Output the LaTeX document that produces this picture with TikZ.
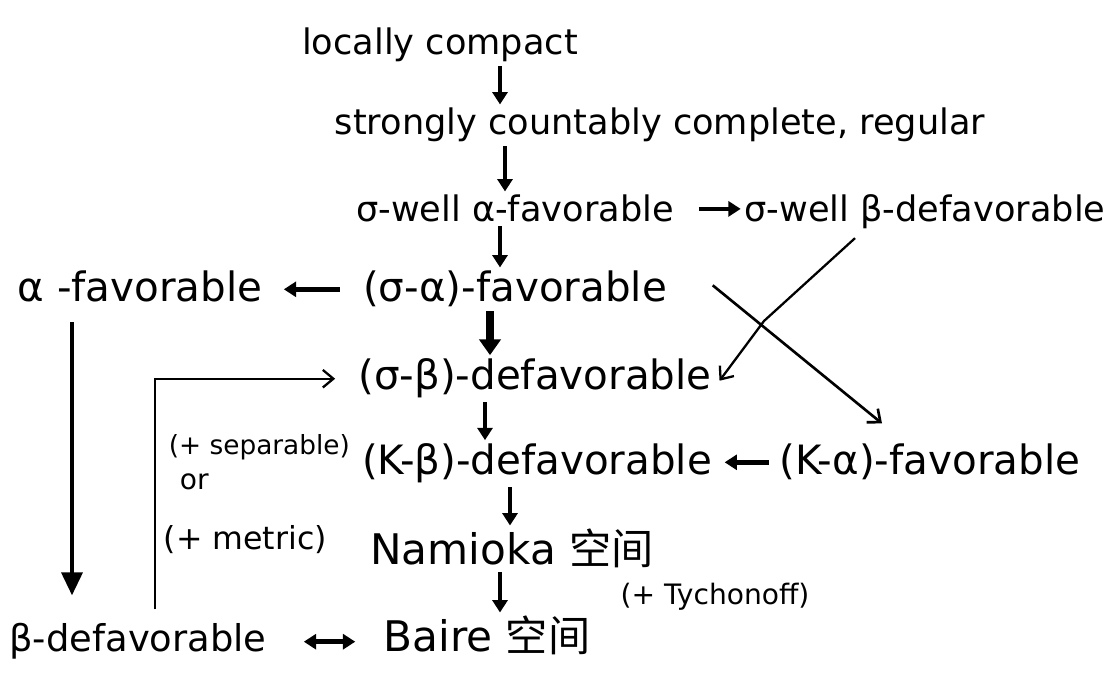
\documentclass[tikz,border=0pt]{standalone}
\usepackage{fontspec}
\setmainfont{DejaVu Sans}
\newfontfamily\cjk{Noto Sans CJK SC}
\usetikzlibrary{arrows.meta,calc}
\begin{document}
\begin{tikzpicture}[x=0.02cm,y=-0.02cm,
  lab/.style={font=\fontsize{20}{24}\selectfont, anchor=base, inner sep=2pt},
  biglab/.style={font=\fontsize{23}{27}\selectfont, anchor=base, inner sep=2pt},
  smalllab/.style={font=\fontsize{16}{19}\selectfont, anchor=base, inner sep=2pt},
  condlab/.style={font=\fontsize{15}{18}\selectfont, anchor=base west, inner sep=2pt},
  varr/.style={-{Triangle[length=7pt,width=8.5pt]}, line width=2.2pt},
  fatarr/.style={-{Triangle[length=9pt,width=12pt]}, line width=4pt},
  harr/.style={-{Triangle[length=7pt,width=8.5pt]}, line width=2.6pt},
  dharr/.style={{Triangle[length=7pt,width=8.5pt]}-{Triangle[length=7pt,width=8.5pt]}, line width=2.6pt},
  thinarr/.style={-{Straight Barb[length=6pt,width=10pt]}, line width=1.5pt},
  longarr/.style={-{Triangle[length=13pt,width=12pt]}, line width=1.8pt}
]
\useasboundingbox[fill=white] (0,0) rectangle (1110,675);

% column coordinates
\coordinate (x72) at (72,0);
\coordinate (x155) at (155,0);
\coordinate (x485) at (485,0);
\coordinate (x490) at (490,0);
\coordinate (x500) at (500,0);
\coordinate (x505) at (505,0);
\coordinate (x510) at (510,0);
\coordinate (bend) at (764,321);

% nodes
\node[lab] (lc)    at (440,55)  {locally compact};
\node[lab] (scc)   at (660,135) {strongly countably complete, regular};
\node[lab] (swa)   at (515,222) {σ-well α-favorable};
\node[lab] (swb)   at (925,222) {σ-well β-defavorable};
\node[biglab] (af) at (140,302) {α -favorable};
\node[biglab] (sa) at (515,302) {(σ-α)-favorable};
\node[biglab] (sb) at (535,390) {(σ-β)-defavorable};
\node[biglab] (kb) at (537,475) {(K-β)-defavorable};
\node[biglab] (ka) at (930,475) {(K-α)-favorable};
\node[biglab, font=\fontsize{24}{28}\selectfont] (nam) at (512,565) {Namioka {\cjk 空间}};
\node[smalllab] (ty) at (715,605) {(+ Tychonoff)};
\node[lab, font=\fontsize{21}{25}\selectfont] (bd) at (138,652) {β-defavorable};
\node[biglab, font=\fontsize{24}{28}\selectfont] (baire) at (487,652) {Baire {\cjk 空间}};
\node[condlab] (c1) at (165,455) {(+ separable)};
\node[condlab, font=\fontsize{16}{19}\selectfont] (c2) at (176,490) {or};
\node[condlab, font=\fontsize{18}{21}\selectfont] (c3) at (160,550) {(+ metric)};

% vertical arrows
\draw[varr] (lc.south -| x500) -- (scc.north -| x500);
\draw[varr] (scc.south -| x505) -- (swa.north -| x505);
\draw[varr] (swa.south -| x500) -- (sa.north -| x500);
\draw[fatarr] (sa.south -| x490) -- (sb.north -| x490);
\draw[varr] (sb.south -| x485) -- (kb.north -| x485);
\draw[varr] (kb.south -| x510) -- (nam.north -| x510);
\draw[varr] (nam.south -| x500) -- (baire.north -| x500);

% horizontal arrows
\draw[harr, shorten <=12pt] (swa.east) -- (swa.east -| swb.west);
\draw[harr, shorten <=11pt, shorten >=10pt] (sa.west) -- (sa.west -| af.east);
\draw[harr, shorten <=4pt, shorten >=5pt] (ka.west) -- (ka.west -| kb.east);
\draw[dharr, shorten <=19pt, shorten >=14pt] (bd.east) -- (bd.east -| baire.west);

% diagonal arrows
\draw[thinarr] ($(sa.east)+(42,-4)$) -- ($(ka.north)+(-48,-17)$);
\draw[thinarr, line width=1.3pt] ($(swb.south)+(-70,5)$) -- (bend) -- ($(sb.east)+(4,2)$);

% long left arrows
\draw[longarr, shorten <=9pt, shorten >=14pt] (af.south -| x72) -- (bd.north -| x72);
\draw[thinarr, line width=1.3pt, shorten <=6pt, shorten >=11pt] (bd.north -| x155) |- (sb.west);
\end{tikzpicture}
\end{document}
